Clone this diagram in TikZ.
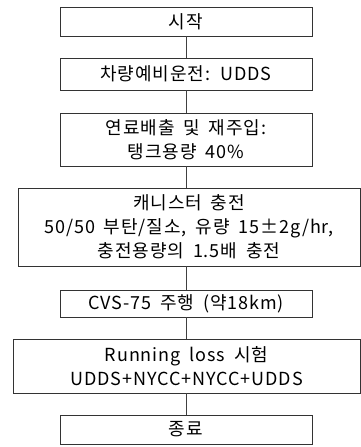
\documentclass[tikz,border=0pt]{standalone}
\usepackage{fontspec}
\setmainfont[WordSpace=1.8,LetterSpace=5]{Noto Sans CJK KR}
\begin{document}
\begin{tikzpicture}[x=1pt,y=-1pt,
  box/.style={draw=black!80,line width=0.9pt,align=center,inner sep=0pt,font=\fontsize{18}{24}\selectfont},
  conn/.style={draw=black!75,line width=0.9pt}]
\useasboundingbox (0,0) rectangle (361,447);
\node[box,minimum width=252,minimum height=29] (n1) at (186,21.5) {시작};
\node[box,minimum width=252,minimum height=32] (n2) at (186,74) {차량예비운전: UDDS};
\node[box,minimum width=252,minimum height=53] (n3) at (186,139.5) {연료배출 및 재주입:\\탱크용량 40\%};
\node[box,minimum width=342,minimum height=78] (n4) at (189,227) {캐니스터 충전\\50/50 부탄/질소, 유량 15±2g/hr,\\충전용량의 1.5배 충전};
\node[box,minimum width=252,minimum height=27] (n5) at (186,303.5) {CVS-75 주행 (약18km)};
\node[box,minimum width=347,minimum height=54] (n6) at (186.5,366) {Running loss 시험\\UDDS+NYCC+NYCC+UDDS};
\node[box,minimum width=252,minimum height=29] (n7) at (186,429.5) {종료};
\draw[conn] (n1.south) -- (n2.north);
\draw[conn] (n2.south) -- (n3.north);
\draw[conn] (n3.south) -- (n3.south |- n4.north);
\draw[conn] (n4.south -| n5.north) -- (n5.north);
\draw[conn] (n5.south) -- (n5.south |- n6.north);
\draw[conn] (n6.south -| n7.north) -- (n7.north);
\end{tikzpicture}
\end{document}
